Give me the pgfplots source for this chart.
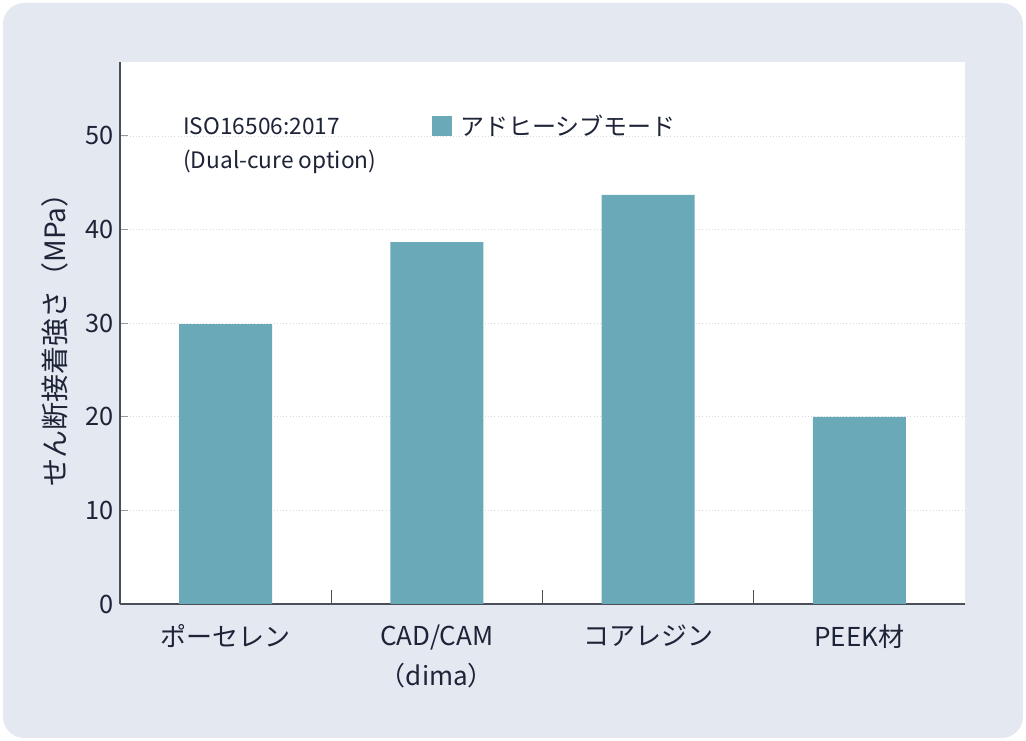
\documentclass[border=0pt]{standalone}
\usepackage{pgfplots}
\pgfplotsset{compat=1.18}
\usepackage{fontspec}
\setmainfont{Noto Sans CJK JP}
\definecolor{bgcol}{HTML}{E3E8F1}
\definecolor{barcol}{HTML}{6AA9B8}
\definecolor{txtcol}{HTML}{1E2438}
\definecolor{axcol}{HTML}{4A4F5A}
\definecolor{gridcol}{HTML}{D8DCE2}
\begin{document}
\begin{tikzpicture}[x=0.75pt,y=0.75pt]
\fill[white] (0,0) rectangle (1026,741);
\fill[bgcol, rounded corners=16pt] (3,3) rectangle (1023,738);
\begin{axis}[
  at={(90pt,102.75pt)}, anchor=south west,
  scale only axis, width=633.75pt, height=406.5pt,
  axis background/.style={fill=white},
  axis lines=left, axis line style={draw=axcol, line width=0.8pt, -},
  xmin=-0.5, xmax=3.5, ymin=0, ymax=57.9,
  xtick={0,1,2,3},
  xticklabels={ポーセレン,{CAD/CAM\\（dima）},コアレジン,PEEK材},
  major x tick style={draw=none},
  minor xtick={0.5,1.5,2.5},
  minor tick length=10.5pt,
  minor x tick style={draw=axcol, line width=0.6pt},
  ytick={0,10,20,30,40,50},
  major tick length=6pt,
  y tick style={draw=gray!80, line width=0.8pt},
  ymajorgrids, grid style={draw=gridcol, dotted, line width=0.6pt},
  tick align=inside,
  /pgf/number format/assume math mode=true,
  yticklabel style={font=\fontsize{19}{22}\selectfont, text=txtcol, xshift=-1pt},
  xticklabel style={font=\fontsize{19.5}{30}\selectfont, text=txtcol, align=center, yshift=-12pt},
  ylabel={せん断接着強さ（MPa）},
  ylabel style={font=\fontsize{21}{24}\selectfont, text=txtcol, at={(axis description cs:-0.077,0.5)}, anchor=center},
  legend style={at={(axis description cs:0.369,0.882)}, anchor=west, draw=none, fill=none, inner sep=0pt, font=\fontsize{18}{21}\selectfont, text=txtcol},
  legend image code/.code={\fill[barcol] (0pt,-7.5pt) rectangle (15pt,7.5pt);},
  legend style={/tikz/every even column/.append style={column sep=0pt}},
  legend style={nodes={inner sep=3pt}},
  clip=false,
]
\addplot[ybar, bar width=69.75pt, fill=barcol, draw=none] coordinates {(0,29.9) (1,38.65) (2,43.7) (3,20.0)};
\addlegendentry{\hspace{3pt}アドヒーシブモード}
\node[anchor=west, text=txtcol, font=\fontsize{17}{20}\selectfont, inner sep=0pt] at (axis description cs:0.0746,0.882) {ISO16506:2017};
\node[anchor=west, text=txtcol, font=\fontsize{17}{20}\selectfont, inner sep=0pt] at (axis description cs:0.0746,0.8155) {(Dual-cure option)};
\end{axis}
\pgfresetboundingbox
\useasboundingbox (0,0) rectangle (1026,741);
\end{tikzpicture}
\end{document}
